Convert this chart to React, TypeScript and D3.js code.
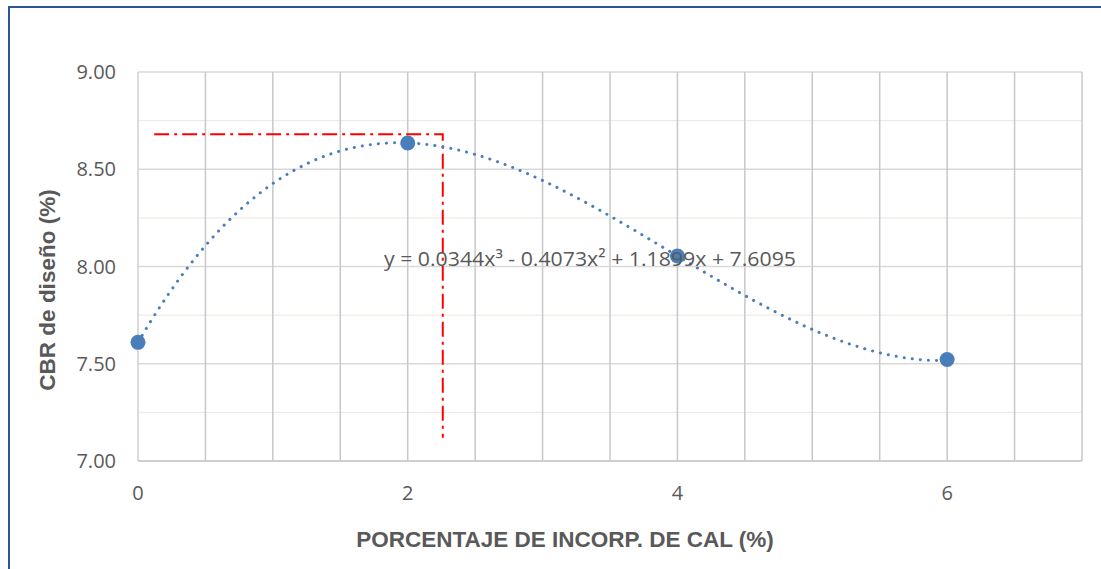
import React from "react";
import * as d3 from "d3";

const cal = [0, 2, 4, 6];
const cbr = [7.61, 8.635, 8.054, 7.522];
const xTicks = [0, 2, 4, 6];
const yTicks = [7.0, 7.5, 8.0, 8.5, 9.0];
const coef = [7.6095, 1.1899, -0.4073, 0.0344];
const equation = "y = 0.0344x³ - 0.4073x² + 1.1899x + 7.6095";
const guideX = 2.26;
const guideY = 8.68;
const guideXStart = 0.12;
const guideYEnd = 7.12;

export default function App() {
  const W = 1101, H = 569;
  const x = d3.scaleLinear().domain([0, 7]).range([138, 1082]);
  const y = d3.scaleLinear().domain([7, 9]).range([461, 72]);
  const minorY = d3.range(7.25, 9, 0.5);
  const majorY = d3.range(7, 9.01, 0.5);
  const gridX = d3.range(0.5, 7.01, 0.5);
  const f = (v: number) => coef[0] + coef[1] * v + coef[2] * v * v + coef[3] * v * v * v;
  const trendPts = d3.range(0, 6.0001, 0.02).map((v) => [v, f(v)] as [number, number]);
  const line = d3.line<[number, number]>().x((d) => x(d[0])).y((d) => y(d[1])).curve(d3.curveLinear);
  const gray = "#595959";
  const tickFont = "'Open Sans', Lato, sans-serif";
  const titleFont = "'Liberation Sans', Arial, sans-serif";
  return (
    <svg width={W} height={H} style={{ position: "absolute", left: 0, top: 0, background: "#fff" }}>
      <rect x={9} y={7} width={1200} height={700} fill="#fff" stroke="#2f5496" strokeWidth={2} />
      {minorY.map((v) => (
        <line key={"m" + v} x1={x(0)} x2={x(7)} y1={y(v)} y2={y(v)} stroke="#eeebe2" strokeWidth={1.3} />
      ))}
      {majorY.map((v) => (
        <line key={"M" + v} x1={x(0)} x2={x(7)} y1={y(v)} y2={y(v)} stroke="#d9d9d9" strokeWidth={1.5} />
      ))}
      {gridX.map((v) => (
        <line key={"x" + v} x1={x(v)} x2={x(v)} y1={y(9)} y2={y(7)} stroke="#c8c8c8" strokeWidth={1.5} />
      ))}
      <line x1={x(0)} x2={x(0)} y1={y(9)} y2={y(7)} stroke="#cfcfcf" strokeWidth={1.5} />
      <line x1={x(0)} x2={x(7)} y1={y(7)} y2={y(7)} stroke="#c8c8c8" strokeWidth={1.5} />
      {yTicks.map((v) => (
        <text key={"yt" + v} x={116} y={y(v)} dy="0.36em" textAnchor="end" fontFamily={tickFont} fontSize={20} fill={gray}>
          {v.toFixed(2)}
        </text>
      ))}
      {xTicks.map((v) => (
        <text key={"xt" + v} x={x(v)} y={500} textAnchor="middle" fontFamily={tickFont} fontSize={20} fill={gray}>
          {v}
        </text>
      ))}
      <path
        d={`M${x(guideXStart)},${y(guideY)}H${x(guideX)}V${y(guideYEnd)}`}
        fill="none"
        stroke="#ff0000"
        strokeWidth={2}
        strokeDasharray="15,5,3,5"
      />
      <path d={line(trendPts) || ""} fill="none" stroke="#4a7ebb" strokeWidth={3} strokeLinecap="round" strokeDasharray="0.1,8" />
      {cal.map((v, i) => (
        <circle key={"p" + i} cx={x(v)} cy={y(cbr[i])} r={7.5} fill="#4a7ebb" />
      ))}
      <text x={384} y={266} fontFamily={tickFont} fontSize={20} fill={gray} textLength={412} lengthAdjust="spacingAndGlyphs">
        {equation}
      </text>
      <text
        transform={`translate(55,290) rotate(-90)`}
        textAnchor="middle"
        fontFamily={titleFont}
        fontWeight="bold"
        fontSize={22.5}
        fill={gray}
      >
        CBR de diseño (%)
      </text>
      <text x={565} y={547} textAnchor="middle" fontFamily={titleFont} fontWeight="bold" fontSize={22.5} fill={gray}>
        PORCENTAJE DE INCORP. DE CAL (%)
      </text>
    </svg>
  );
}
